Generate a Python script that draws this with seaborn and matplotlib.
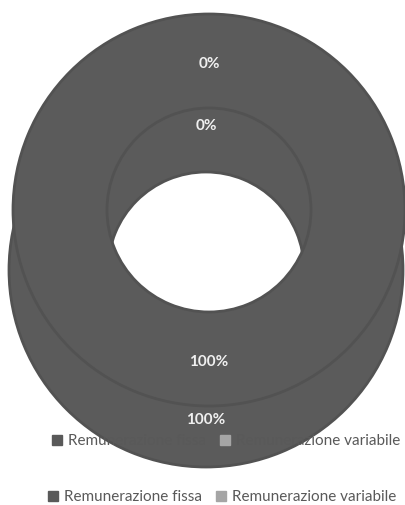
import matplotlib
matplotlib.use("Agg")
import matplotlib.pyplot as plt
from matplotlib.patches import Patch
import seaborn as sns

# ---- data ----
categories = ["Remunerazione fissa", "Remunerazione variabile"]
chart_front = [100, 0]   # upper (front) donut
chart_back = [100, 0]    # lower (back) donut
slice_colors = ["#5b5b5b", "#a5a5a5"]
legend_colors = ["#595959", "#a5a5a5"]

sns.set_theme(style="white")
plt.rcParams["font.family"] = ["Lato", "DejaVu Sans"]

W, H = 406, 505
fig = plt.figure(figsize=(W / 100, H / 100), dpi=100)
ax = fig.add_axes([0, 0, 1, 1])

edge = "#525252"


def donut(values, cx, cy, R, r, z):
    wedges, texts, autotexts = ax.pie(
        values, colors=slice_colors, startangle=90, counterclock=False,
        center=(cx, H - cy), radius=R, autopct="%1.0f%%",
        pctdistance=(R - (R - r) / 2) / R,
        wedgeprops=dict(width=R - r, edgecolor=edge, linewidth=2),
        textprops=dict(color="#f0f0f0", fontsize=11, fontweight="bold"),
        frame=True,
    )
    for w in wedges:
        w.set_zorder(z)
    for v, w in zip(values, wedges):
        if v == 0:
            w.set_linewidth(0)
    for t in autotexts:
        t.set_zorder(z + 0.5)
        x, y = t.get_position()
        t.set_position((x, y - 3))
    return wedges, autotexts


donut(chart_back, 206, 270, 197, 98, 1)
donut(chart_front, 209, 210, 196, 102, 3)
ax.set_xlim(0, W)
ax.set_ylim(0, H)
ax.set_aspect("equal")
ax.axis("off")

handles = [Patch(facecolor=c, edgecolor=c, label=l) for c, l in zip(legend_colors, categories)]

for yc, xc in [(441, 226), (497, 222)]:
    fig.legend(handles=handles, loc="center", bbox_to_anchor=(xc / W, 1 - yc / H),
               ncol=2, frameon=False, fontsize=11, labelcolor="#595959",
               handlelength=0.65, handleheight=0.65, handletextpad=0.4,
               columnspacing=0.9, borderpad=0, borderaxespad=0)

fig.savefig("out.png", dpi=100)
